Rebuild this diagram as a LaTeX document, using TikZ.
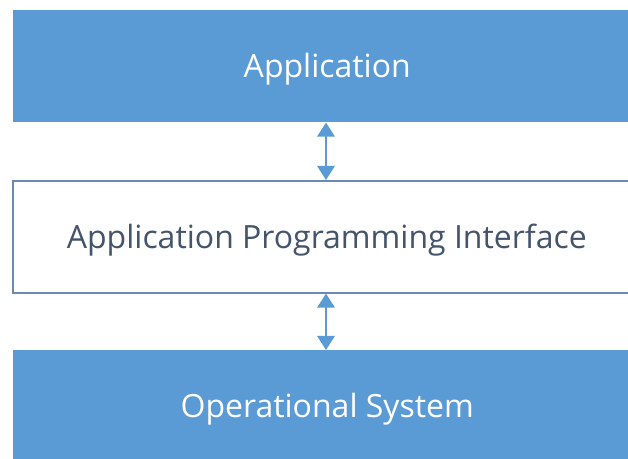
\documentclass[tikz,border=0pt]{standalone}
\usepackage{fontspec}
\setmainfont{Open Sans}
\usetikzlibrary{arrows.meta}
\definecolor{offblue}{HTML}{5B9BD5}
\definecolor{boxline}{HTML}{6A8BB0}
\definecolor{midtext}{HTML}{44546A}
\newcommand{\lowered}[1]{\raisebox{-2.4pt}[\height][\depth]{#1}}
\begin{document}
\begin{tikzpicture}[x=0.75pt,y=-0.75pt,
  layer/.style={minimum width=628*0.75pt, minimum height=112*0.75pt, inner sep=0pt, anchor=north west, font=\fontsize{24}{28}\selectfont},
  bluelayer/.style={layer, fill=offblue, text=white},
  whitelayer/.style={layer, fill=white, draw=boxline, line width=1.2pt, text=midtext},
  dbl/.style={draw=offblue, line width=1.6pt, {Triangle[width=13pt,length=10.5pt]}-{Triangle[width=13pt,length=10.5pt]}}]
\useasboundingbox (0,0) rectangle (628,459);
\node[bluelayer] (app) at (13,10) {\lowered{Application}};
\node[whitelayer] (api) at (12,180) {\lowered{Application Programming Interface}};
\node[bluelayer] (os) at (13,350) {\lowered{Operational System}};
\draw[dbl] (app.south -| 326,0) -- (api.north -| 326,0);
\draw[dbl] (api.south -| 326,0) -- (os.north -| 326,0);
\end{tikzpicture}
\end{document}
